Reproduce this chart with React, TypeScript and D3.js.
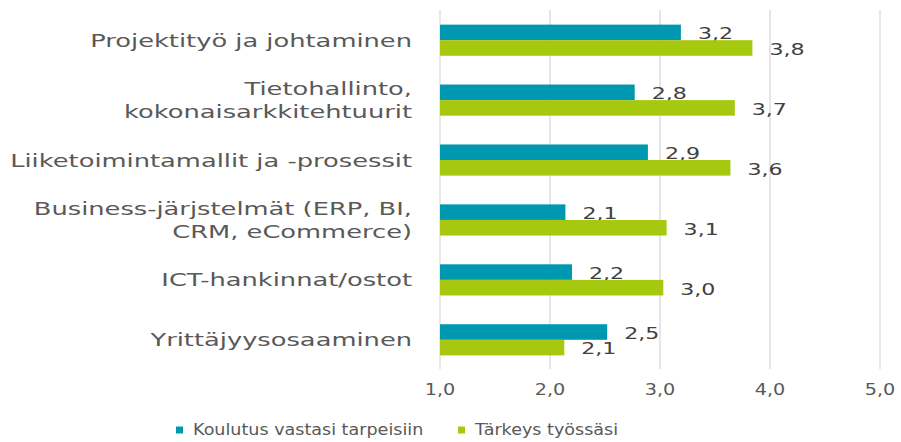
import React from "react";
import * as d3 from "d3";

const categories = [
  ["Projektityö ja johtaminen"],
  ["Tietohallinto,", "kokonaisarkkitehtuurit"],
  ["Liiketoimintamallit ja -prosessit"],
  ["Business-järjstelmät (ERP, BI,", "CRM, eCommerce)"],
  ["ICT-hankinnat/ostot"],
  ["Yrittäjyysosaaminen"],
];
const koulutus = [3.19, 2.77, 2.89, 2.14, 2.2, 2.52];
const tarkeys = [3.84, 3.68, 3.64, 3.06, 3.03, 2.13];
const labelsKoulutus = ["3,2", "2,8", "2,9", "2,1", "2,2", "2,5"];
const labelsTarkeys = ["3,8", "3,7", "3,6", "3,1", "3,0", "2,1"];
const ticks = [1, 2, 3, 4, 5];
const seriesNames = ["Koulutus vastasi tarpeisiin", "Tärkeys työssäsi"];
const colors = ["#0098B0", "#A6C80F"];

const W = 901;
const H = 442;
const FONT = "'DejaVu Sans', Verdana, sans-serif";

export default function App() {
  const x = d3.scaleLinear().domain([1, 5]).range([440, 880]);
  const idx = categories.map((_, i) => String(i));
  const y = d3.scaleBand().domain(idx).range([10, 370]).paddingInner(0.48).paddingOuter(0.244);
  const sub = d3.scaleBand().domain(["0", "1"]).range([0, y.bandwidth()]);
  const series = [koulutus, tarkeys];
  const labels = [labelsKoulutus, labelsTarkeys];
  const fmt = (v: number) => d3.format(".1f")(v).replace(".", ",");

  return (
    <svg width={W} height={H} style={{ position: "absolute", left: 0, top: 0, background: "#fff" }} fontFamily={FONT}>
      {ticks.map((t) => (
        <line key={"g" + t} x1={x(t)} x2={x(t)} y1={10} y2={369} stroke="#d9d9d9" strokeWidth={1.3} />
      ))}
      {idx.map((c, i) => (
        <g key={c}>
          {series.map((s, k) => {
            const yy = (y(c) as number) + (sub(String(k)) as number);
            return (
              <g key={k}>
                <rect x={x(1)} y={yy} width={x(s[i]) - x(1)} height={sub.bandwidth()} fill={colors[k]} />
                <text
                  transform={`translate(${x(s[i]) + 17},${yy + sub.bandwidth() / 2 + 1.5}) scale(1.38,1)`}
                  dominantBaseline="central"
                  fontSize={16}
                  fill="#404040"
                >
                  {labels[k][i]}
                </text>
              </g>
            );
          })}
          {categories[i].map((line, j) => {
            const n = categories[i].length;
            const cy = (y(c) as number) + y.bandwidth() / 2 + (j - (n - 1) / 2) * 23;
            return (
              <text
                key={j}
                transform={`translate(412,${cy}) scale(1.43,1)`}
                textAnchor="end"
                dominantBaseline="central"
                fontSize={18}
                fill="#595959"
              >
                {line}
              </text>
            );
          })}
        </g>
      ))}
      {ticks.map((t) => (
        <text
          key={"t" + t}
          transform={`translate(${x(t)},390) scale(1.2,1)`}
          textAnchor="middle"
          dominantBaseline="central"
          fontSize={16}
          fill="#595959"
        >
          {fmt(t)}
        </text>
      ))}
      {seriesNames.map((name, k) => {
        const lx = [176, 458][k];
        return (
          <g key={name}>
            <rect x={lx} y={426.5} width={7} height={7} fill={colors[k]} />
            <text
              transform={`translate(${lx + 17},430) scale(1.17,1)`}
              dominantBaseline="central"
              fontSize={15}
              fill="#595959"
            >
              {name}
            </text>
          </g>
        );
      })}
    </svg>
  );
}
